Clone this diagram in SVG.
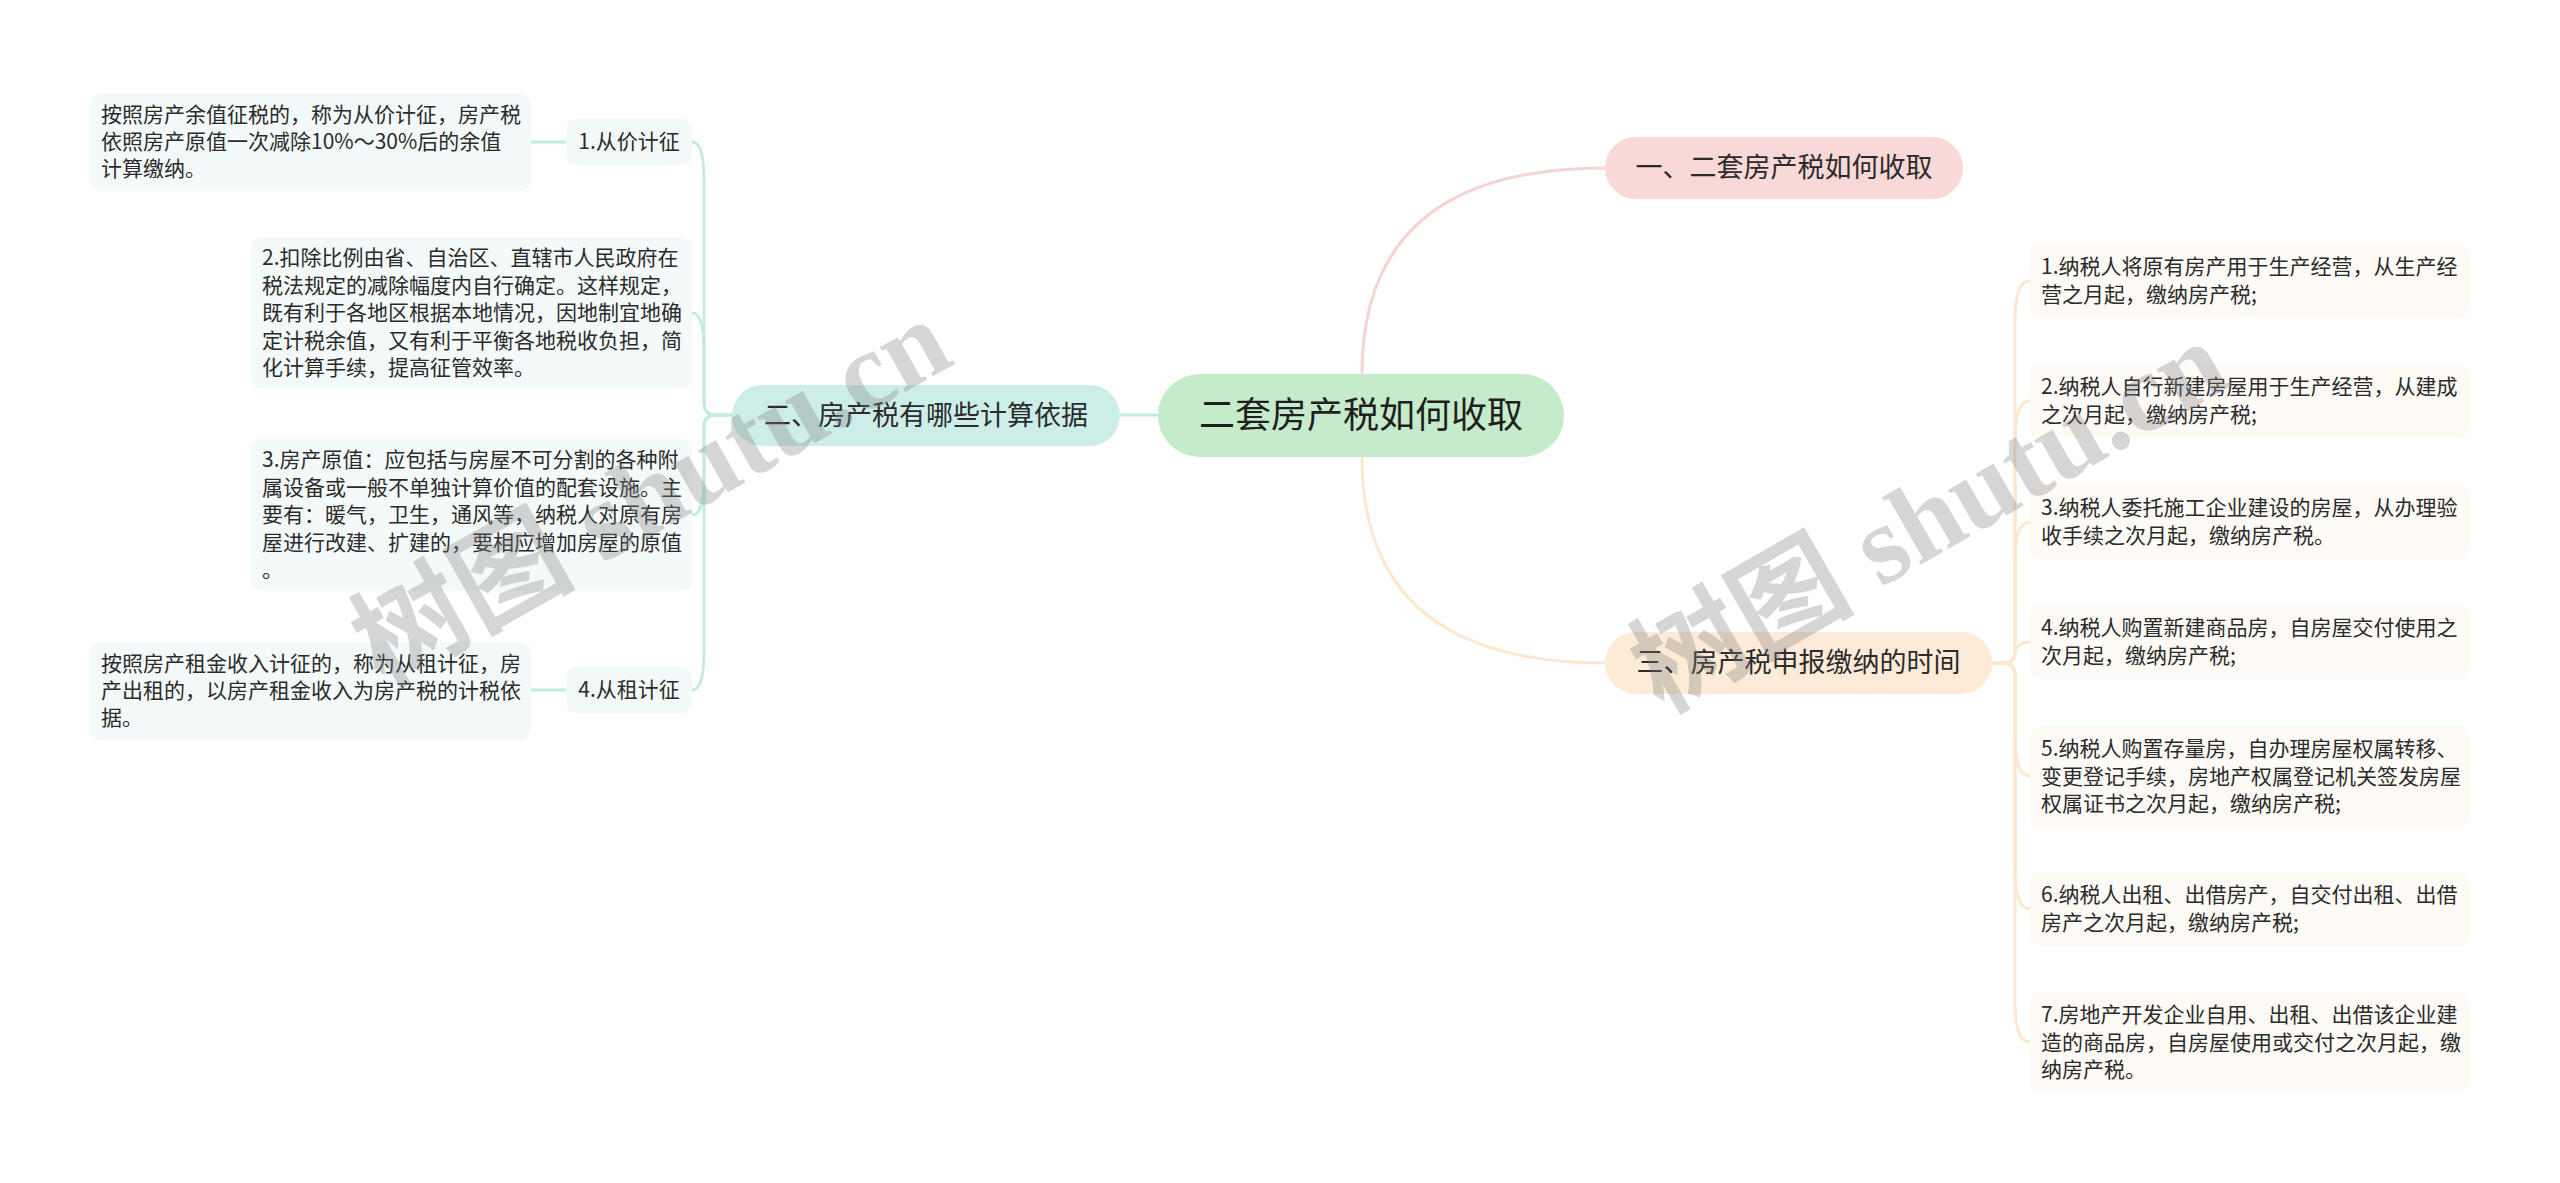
<svg xmlns="http://www.w3.org/2000/svg" width="2560" height="1183" viewBox="0 0 2560 1183">
<style>
text{font-family:"Noto Sans CJK SC","Noto Sans",sans-serif;fill:#2b2b2b}
.t21{font-size:21px}
.t27{font-size:27px}
.root{font-size:36px;fill:#1f1f1f}
.cl{fill:none;stroke:#c4ebe3;stroke-width:3}
.cp{fill:none;stroke:#f7d3d3;stroke-width:3}
.co{fill:none;stroke:#fce7cf;stroke-width:3}
.lleaf{fill:#f4fafa}
.rleaf{fill:#fefaf5}
.wm{font-family:"Liberation Serif","Noto Sans CJK SC",serif;font-size:112px;font-weight:bold;fill:#808080;fill-opacity:0.32}
</style>
<rect width="2560" height="1183" fill="#ffffff"/>
<g id="connectors">
<path class="cl" d="M1120 415 H1158"/>
<path class="cl" d="M531 142 H566"/>
<path class="cl" d="M531 690 H566"/>
<path class="cl" d="M732 415 H716 Q704 415 704 403 V180 C704 154 700 142 692 142"/>
<path class="cl" d="M732 415 H716 Q704 415 704 403 V350 C704 325 700 313 692 313"/>
<path class="cl" d="M732 415 H716 Q704 415 704 427 V478 C704 503 700 515 692 515"/>
<path class="cl" d="M732 415 H716 Q704 415 704 427 V652 C704 678 700 690 692 690"/>
<path class="cp" d="M1362 374 Q1362 168 1605 168"/>
<path class="co" d="M1362 457 Q1362 663 1605 663"/>
<path class="co" d="M1992 663 H2003 Q2015 663 2015 651 V320 C2015 293 2020 281 2030 281"/>
<path class="co" d="M1992 663 H2003 Q2015 663 2015 651 V440 C2015 413 2020 401 2030 401"/>
<path class="co" d="M1992 663 H2003 Q2015 663 2015 651 V561 C2015 534 2020 522 2030 522"/>
<path class="co" d="M1992 663 H2003 Q2015 663 2015 654 C2015 648 2020 642 2030 642"/>
<path class="co" d="M1992 663 H2003 Q2015 663 2015 675 V737 C2015 764 2020 776 2030 776"/>
<path class="co" d="M1992 663 H2003 Q2015 663 2015 675 V870 C2015 897 2020 909 2030 909"/>
<path class="co" d="M1992 663 H2003 Q2015 663 2015 675 V1003 C2015 1030 2020 1042 2030 1042"/>
</g>
<g id="root">
<rect x="1158" y="374" width="406" height="83" rx="41.5" fill="#c6ebcb"/>
<text class="root" x="1361" y="428" text-anchor="middle">二套房产税如何收取</text>
</g>
<g id="n-left">
<rect x="732" y="385" width="388" height="61" rx="30.5" fill="#cdeee8"/>
<text class="t27" x="926" y="425" text-anchor="middle">二、房产税有哪些计算依据</text>
</g>
<g id="n-r1">
<rect x="1605" y="137" width="358" height="62" rx="31" fill="#f9d8d8"/>
<text class="t27" x="1784" y="177" text-anchor="middle">一、二套房产税如何收取</text>
</g>
<g id="n-r3">
<rect x="1605" y="632" width="387" height="62" rx="31" fill="#fdebd7"/>
<text class="t27" x="1798.5" y="672" text-anchor="middle">三、房产税申报缴纳的时间</text>
</g>
<g id="n-l1">
<rect x="566" y="119" width="126" height="46" rx="10" fill="#f2f9f8"/>
<text class="t21" x="629" y="149" text-anchor="middle">1.从价计征</text>
</g>
<g id="n-l4">
<rect x="566" y="667" width="126" height="46" rx="10" fill="#f2f9f8"/>
<text class="t21" x="629" y="697" text-anchor="middle">4.从租计征</text>
</g>
<g id="leaf-a">
<rect class="lleaf" x="90" y="93" width="441" height="98" rx="10"/>
<text class="t21"><tspan x="101" y="122">按照房产余值征税的，称为从价计征，房产税</tspan><tspan x="101" y="149">依照房产原值一次减除10%～30%后的余值</tspan><tspan x="101" y="176">计算缴纳。</tspan></text>
</g>
<g id="leaf-b">
<rect class="lleaf" x="251" y="237" width="441" height="152" rx="10"/>
<text class="t21"><tspan x="262" y="265">2.扣除比例由省、自治区、直辖市人民政府在</tspan><tspan x="262" y="292.5">税法规定的减除幅度内自行确定。这样规定，</tspan><tspan x="262" y="320">既有利于各地区根据本地情况，因地制宜地确</tspan><tspan x="262" y="347.5">定计税余值，又有利于平衡各地税收负担，简</tspan><tspan x="262" y="375">化计算手续，提高征管效率。</tspan></text>
</g>
<g id="leaf-c">
<rect class="lleaf" x="251" y="439" width="441" height="152" rx="10"/>
<text class="t21"><tspan x="262" y="467">3.房产原值：应包括与房屋不可分割的各种附</tspan><tspan x="262" y="494.5">属设备或一般不单独计算价值的配套设施。主</tspan><tspan x="262" y="522">要有：暖气，卫生，通风等，纳税人对原有房</tspan><tspan x="262" y="549.5">屋进行改建、扩建的，要相应增加房屋的原值</tspan><tspan x="262" y="577">。</tspan></text>
</g>
<g id="leaf-d">
<rect class="lleaf" x="90" y="642" width="441" height="98" rx="10"/>
<text class="t21"><tspan x="101" y="671">按照房产租金收入计征的，称为从租计征，房</tspan><tspan x="101" y="698">产出租的，以房产租金收入为房产税的计税依</tspan><tspan x="101" y="725">据。</tspan></text>
</g>
<g id="r-leaf-1">
<rect class="rleaf" x="2030" y="244" width="440" height="74" rx="10"/>
<text class="t21"><tspan x="2041" y="274">1.纳税人将原有房产用于生产经营，从生产经</tspan><tspan x="2041" y="302">营之月起，缴纳房产税;</tspan></text>
</g>
<g id="r-leaf-2">
<rect class="rleaf" x="2030" y="364" width="440" height="74" rx="10"/>
<text class="t21"><tspan x="2041" y="394">2.纳税人自行新建房屋用于生产经营，从建成</tspan><tspan x="2041" y="422">之次月起，缴纳房产税;</tspan></text>
</g>
<g id="r-leaf-3">
<rect class="rleaf" x="2030" y="485" width="440" height="74" rx="10"/>
<text class="t21"><tspan x="2041" y="515">3.纳税人委托施工企业建设的房屋，从办理验</tspan><tspan x="2041" y="543">收手续之次月起，缴纳房产税。</tspan></text>
</g>
<g id="r-leaf-4">
<rect class="rleaf" x="2030" y="605" width="440" height="74" rx="10"/>
<text class="t21"><tspan x="2041" y="635">4.纳税人购置新建商品房，自房屋交付使用之</tspan><tspan x="2041" y="663">次月起，缴纳房产税;</tspan></text>
</g>
<g id="r-leaf-5">
<rect class="rleaf" x="2030" y="726" width="440" height="101" rx="10"/>
<text class="t21"><tspan x="2041" y="756">5.纳税人购置存量房，自办理房屋权属转移、</tspan><tspan x="2041" y="783.5">变更登记手续，房地产权属登记机关签发房屋</tspan><tspan x="2041" y="811">权属证书之次月起，缴纳房产税;</tspan></text>
</g>
<g id="r-leaf-6">
<rect class="rleaf" x="2030" y="872" width="440" height="74" rx="10"/>
<text class="t21"><tspan x="2041" y="902">6.纳税人出租、出借房产，自交付出租、出借</tspan><tspan x="2041" y="930">房产之次月起，缴纳房产税;</tspan></text>
</g>
<g id="r-leaf-7">
<rect class="rleaf" x="2030" y="992" width="440" height="100" rx="10"/>
<text class="t21"><tspan x="2041" y="1022">7.房地产开发企业自用、出租、出借该企业建</tspan><tspan x="2041" y="1049.5">造的商品房，自房屋使用或交付之次月起，缴</tspan><tspan x="2041" y="1077">纳房产税。</tspan></text>
</g>
<g id="watermarks">
<text class="wm" x="652" y="530" text-anchor="middle" transform="rotate(-29.5 652 494)">树图 shutu.cn</text>
<text class="wm" x="1930" y="554" text-anchor="middle" transform="rotate(-30 1930 518)">树图 shutu.cn</text>
</g>
</svg>
